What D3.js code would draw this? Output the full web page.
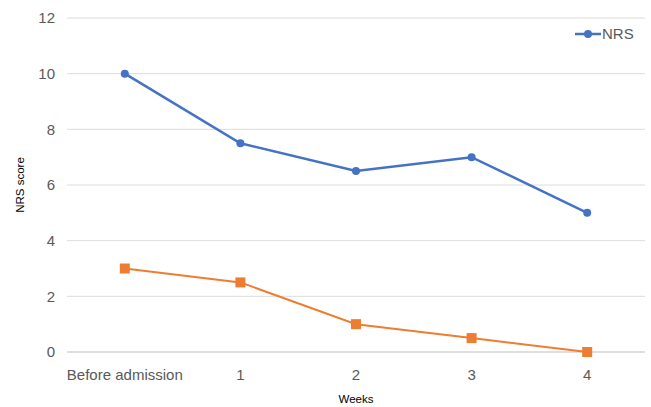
<!DOCTYPE html>
<html><head><meta charset="utf-8">
<script src="https://cdn.jsdelivr.net/npm/d3@7"></script>
<style>body{margin:0;background:#fff;} svg{display:block;font-family:Arial,"Liberation Sans",sans-serif;}</style>
</head><body>
<script>
const categories = ["Before admission","1","2","3","4"];
const nrsValues = [10, 7.5, 6.5, 7, 5];
const secondValues = [3, 2.5, 1, 0.5, 0];
const yTicks = [0,2,4,6,8,10,12];

const W=651,H=407;
const svg=d3.select("body").append("svg").attr("width",W).attr("height",H);
const x=d3.scalePoint().domain(categories).range([67,645]).padding(0.5);
const y=d3.scaleLinear().domain([0,12]).range([352,18]);

svg.append("g").selectAll("line").data(yTicks).join("line")
  .attr("x1",67).attr("x2",645).attr("y1",d=>y(d)).attr("y2",d=>y(d))
  .attr("stroke",d=>d===0?"#d4d4d4":"#dcdcdc").attr("stroke-width",d=>d===0?1.5:1);

svg.append("g").selectAll("text").data(yTicks).join("text")
  .attr("x",55).attr("y",d=>y(d)).attr("dy","0.35em").attr("text-anchor","end")
  .attr("font-size",15).attr("fill","#595959").text(d=>d);

svg.append("g").selectAll("text").data(categories).join("text")
  .attr("x",d=>x(d)).attr("y",380).attr("text-anchor","middle")
  .attr("font-size",15).attr("fill","#595959").text(d=>d);

svg.append("text").attr("x",356).attr("y",403).attr("text-anchor","middle")
  .attr("font-size",11.5).attr("fill","#000").text("Weeks");
svg.append("text").attr("transform","translate(24,185) rotate(-90)").attr("text-anchor","middle")
  .attr("font-size",11.5).attr("fill","#000").text("NRS score");

const line=d3.line().x((d,i)=>x(categories[i])).y(d=>y(d));
svg.append("path").datum(secondValues).attr("d",line).attr("fill","none")
  .attr("stroke","#ED7D31").attr("stroke-width",2);
svg.append("g").selectAll("rect").data(secondValues).join("rect")
  .attr("x",(d,i)=>x(categories[i])-5).attr("y",d=>y(d)-5).attr("width",10).attr("height",10)
  .attr("fill","#ED7D31");

svg.append("path").datum(nrsValues).attr("d",line).attr("fill","none")
  .attr("stroke","#4472C4").attr("stroke-width",2.5);
svg.append("g").selectAll("circle").data(nrsValues).join("circle")
  .attr("cx",(d,i)=>x(categories[i])).attr("cy",d=>y(d)).attr("r",4).attr("fill","#4472C4");

const lg=svg.append("g");
lg.append("line").attr("x1",575).attr("x2",601).attr("y1",34).attr("y2",34).attr("stroke","#4472C4").attr("stroke-width",2.5);
lg.append("circle").attr("cx",588).attr("cy",34).attr("r",4).attr("fill","#4472C4");
lg.append("text").attr("x",602).attr("y",34).attr("dy","0.35em").attr("font-size",15).attr("fill","#595959").text("NRS");
</script>
</body></html>
